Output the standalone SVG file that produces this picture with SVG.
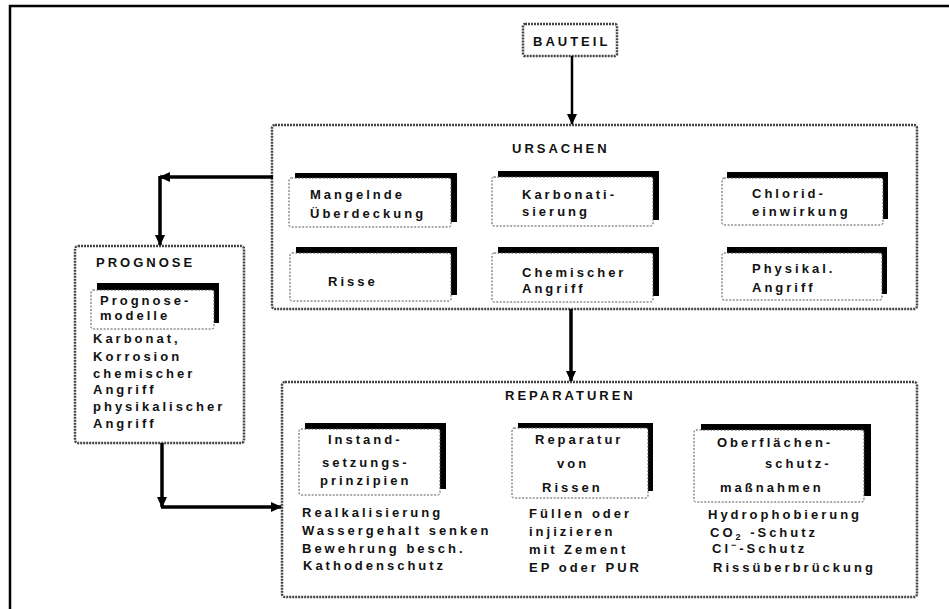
<svg xmlns="http://www.w3.org/2000/svg" width="949" height="609" viewBox="0 0 949 609">
<defs>
<marker id="ah" markerUnits="userSpaceOnUse" markerWidth="12" markerHeight="10" refX="10" refY="5" orient="auto">
<path d="M0,0 L11,5 L0,10 Z" fill="#000"/>
</marker>
<style>
.t{font-family:"Liberation Sans",Arial,sans-serif;font-weight:bold;font-size:13px;letter-spacing:3px;fill:#111}
.big{fill:#fff;stroke:#444;stroke-width:2.5;stroke-dasharray:2 1}
.box{fill:#fff;stroke:#555;stroke-width:1;stroke-dasharray:2 1.5}
.sh{fill:#000}
.c{fill:none;stroke:#000;stroke-width:3.5}
.c2{fill:none;stroke:#000;stroke-width:2.5}
</style>
</defs>
<rect width="949" height="609" fill="#fff"/>
<path d="M10,609 V6 H949" fill="none" stroke="#000" stroke-width="2.5"/>

<g id="bauteil">
<rect class="big" x="523" y="24" width="94" height="32" rx="2"/>
<text class="t" x="533" y="46">BAUTEIL</text>
</g>

<g id="ursachen">
<rect class="big" x="272" y="125" width="645" height="184" rx="3"/>
<text class="t" x="512" y="153">URSACHEN</text>
</g>
<g id="u1">
<rect class="sh" x="295" y="173" width="162" height="49"/>
<rect class="box" x="289" y="178" width="162" height="49" rx="2"/>
<text class="t" x="310" y="199">Mangelnde</text>
<text class="t" x="310" y="218">Überdeckung</text>
</g>
<g id="u2">
<rect class="sh" x="498" y="171" width="161" height="49"/>
<rect class="box" x="492" y="177" width="161" height="49" rx="2"/>
<text class="t" x="522" y="199">Karbonati-</text>
<text class="t" x="522" y="216">sierung</text>
</g>
<g id="u3">
<rect class="sh" x="727" y="172" width="161" height="47"/>
<rect class="box" x="722" y="178" width="161" height="47" rx="2"/>
<text class="t" x="752" y="198">Chlorid-</text>
<text class="t" x="752" y="216">einwirkung</text>
</g>
<g id="u4">
<rect class="sh" x="296" y="247" width="161" height="48"/>
<rect class="box" x="290" y="253" width="161" height="48" rx="2"/>
<text class="t" x="328" y="286">Risse</text>
</g>
<g id="u5">
<rect class="sh" x="498" y="247" width="161" height="49"/>
<rect class="box" x="492" y="253" width="161" height="49" rx="2"/>
<text class="t" x="522" y="277">Chemischer</text>
<text class="t" x="522" y="293">Angriff</text>
</g>
<g id="u6">
<rect class="sh" x="727" y="247" width="160" height="47"/>
<rect class="box" x="722" y="253" width="160" height="47" rx="2"/>
<text class="t" x="752" y="273">Physikal.</text>
<text class="t" x="752" y="292">Angriff</text>
</g>

<g id="prognose">
<rect class="big" x="75" y="246" width="169" height="197" rx="3"/>
<text class="t" x="96" y="267">PROGNOSE</text>
<rect class="sh" x="97" y="283" width="122" height="40"/>
<rect class="box" x="91" y="290" width="123" height="39" rx="2"/>
<text class="t" x="100" y="305">Prognose-</text>
<text class="t" x="100" y="320">modelle</text>
<text class="t" x="93" y="343">Karbonat,</text>
<text class="t" x="93" y="361">Korrosion</text>
<text class="t" x="93" y="378">chemischer</text>
<text class="t" x="93" y="394">Angriff</text>
<text class="t" x="93" y="411">physikalischer</text>
<text class="t" x="93" y="428">Angriff</text>
</g>

<g id="reparaturen">
<rect class="big" x="282" y="382" width="635" height="215" rx="3"/>
<text class="t" x="505" y="400">REPARATUREN</text>
</g>
<g id="r1">
<rect class="sh" x="305" y="423" width="141" height="66"/>
<rect class="box" x="299" y="429" width="141" height="66" rx="2"/>
<text class="t" x="328" y="444">Instand-</text>
<text class="t" x="322" y="467">setzungs-</text>
<text class="t" x="320" y="485">prinzipien</text>
<text class="t" x="302" y="517">Realkalisierung</text>
<text class="t" x="302" y="535">Wassergehalt senken</text>
<text class="t" x="302" y="553">Bewehrung besch.</text>
<text class="t" x="303" y="570">Kathodenschutz</text>
</g>
<g id="r2">
<rect class="sh" x="518" y="423" width="135" height="68"/>
<rect class="box" x="512" y="428" width="136" height="70" rx="2"/>
<text class="t" x="535" y="444">Reparatur</text>
<text class="t" x="557" y="468">von</text>
<text class="t" x="542" y="492">Rissen</text>
<text class="t" x="529" y="518">Füllen oder</text>
<text class="t" x="529" y="536">injizieren</text>
<text class="t" x="529" y="554">mit Zement</text>
<text class="t" x="529" y="572">EP oder PUR</text>
</g>
<g id="r3">
<rect class="sh" x="701" y="424" width="170" height="72"/>
<rect class="box" x="694" y="430" width="170" height="72" rx="2"/>
<text class="t" x="717" y="447">Oberflächen-</text>
<text class="t" x="765" y="468">schutz-</text>
<text class="t" x="720" y="492">maßnahmen</text>
<text class="t" x="708" y="519">Hydrophobierung</text>
<text class="t" x="710" y="537">CO<tspan font-size="9" dy="3">2</tspan><tspan dy="-3"> -Schutz</tspan></text>
<text class="t" x="712" y="553">Cl<tspan font-size="9" dy="-5">−</tspan><tspan dy="5">-Schutz</tspan></text>
<text class="t" x="713" y="572">Rissüberbrückung</text>
</g>

<g id="connectors">
<line class="c2" x1="572" y1="56" x2="572" y2="124" marker-end="url(#ah)"/>
<line class="c" x1="571" y1="309" x2="571" y2="381" marker-end="url(#ah)"/>
<line class="c" x1="273" y1="177" x2="160" y2="177" marker-end="url(#ah)"/>
<line class="c" x1="160" y1="176" x2="160" y2="245" marker-end="url(#ah)"/>
<line class="c" x1="162" y1="443" x2="162" y2="507" marker-end="url(#ah)"/>
<line class="c" x1="161" y1="507" x2="281" y2="507" marker-end="url(#ah)"/>
</g>
</svg>
